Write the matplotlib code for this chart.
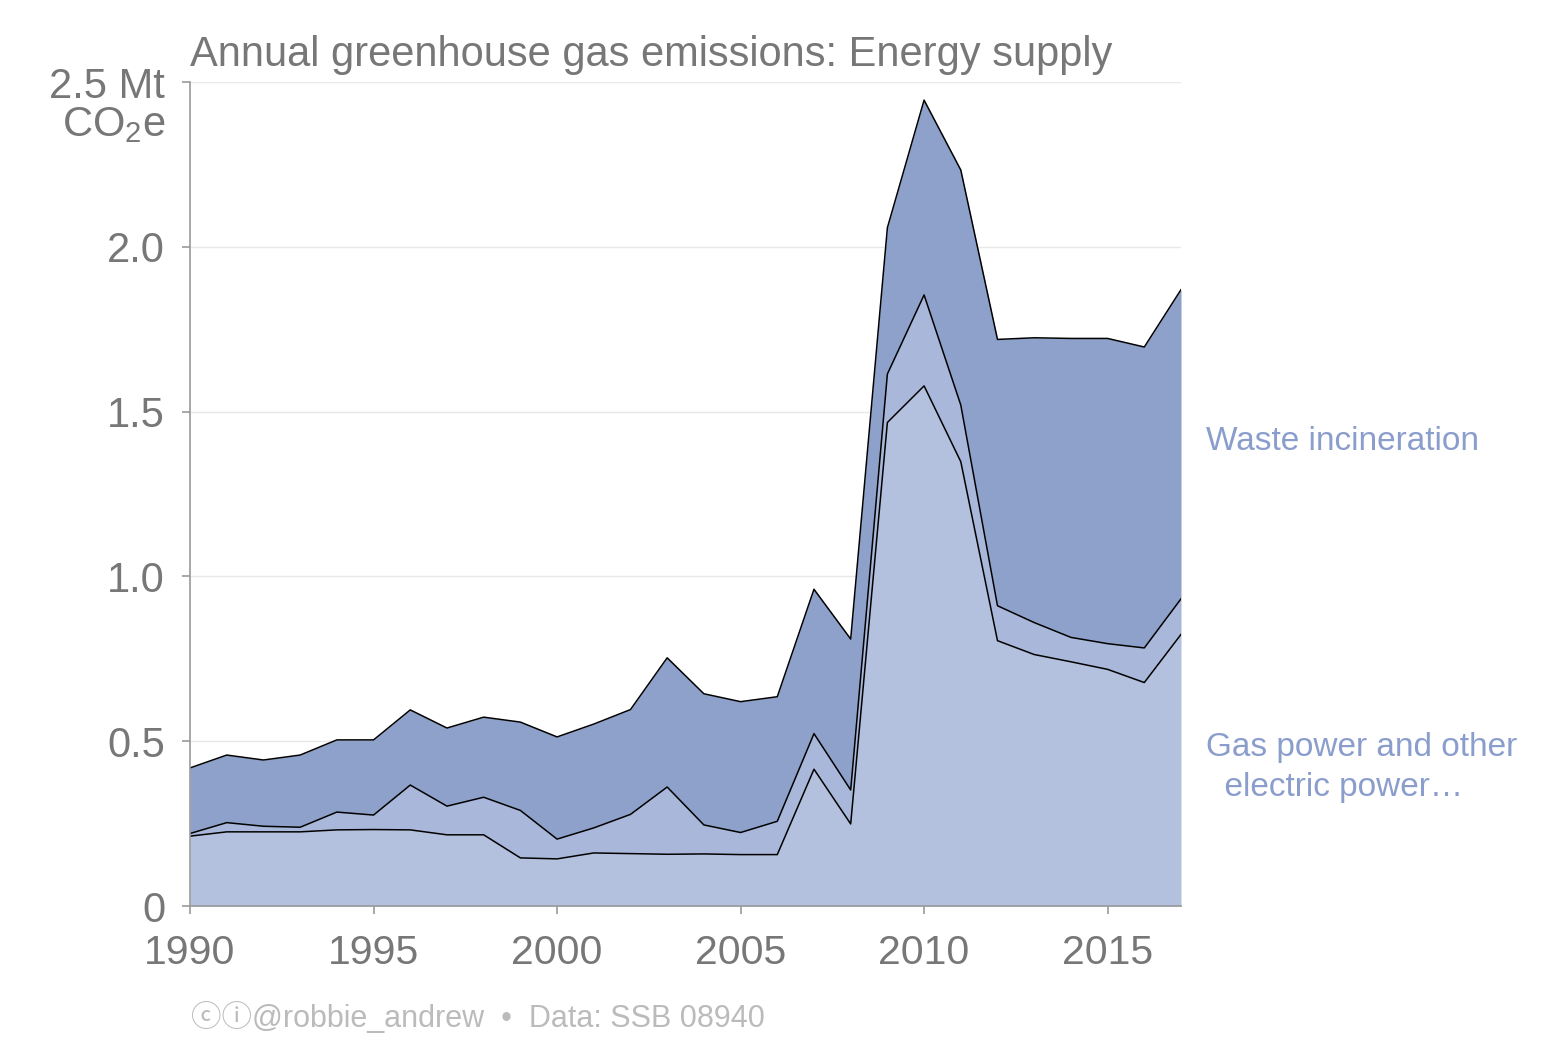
import numpy as np
import matplotlib
matplotlib.use("Agg")
from matplotlib import pyplot as plt

plt.rcParams['font.family'] = ['Liberation Sans', 'DejaVu Sans']
plt.rcParams['mathtext.default'] = 'regular'

# Emissions, Mt CO2e
years = list(range(1990, 2018))
gas_power = [0.212, 0.225, 0.225, 0.225, 0.231, 0.232, 0.231, 0.216, 0.216, 0.146,
             0.143, 0.161, 0.159, 0.157, 0.158, 0.156, 0.156, 0.415, 0.249, 1.467,
             1.578, 1.348, 0.805, 0.763, 0.741, 0.718, 0.678, 0.824]
other_energy = [0.008, 0.028, 0.017, 0.014, 0.054, 0.044, 0.136, 0.087, 0.114, 0.144,
                0.060, 0.076, 0.119, 0.204, 0.088, 0.067, 0.101, 0.108, 0.103, 0.147,
                0.276, 0.172, 0.106, 0.097, 0.074, 0.078, 0.105, 0.108]
waste = [0.199, 0.205, 0.201, 0.219, 0.219, 0.228, 0.228, 0.237, 0.243, 0.268,
         0.310, 0.315, 0.318, 0.392, 0.398, 0.397, 0.378, 0.438, 0.458, 0.444,
         0.591, 0.713, 0.808, 0.864, 0.907, 0.926, 0.913, 0.938]

x_ticks = [1990, 1995, 2000, 2005, 2010, 2015]
y_ticks = [0, 0.5, 1.0, 1.5, 2.0, 2.5]
y_ticklabels = ['0', '0.5', '1.0', '1.5', '2.0', '2.5 Mt']

grey = '#777777'
fills = ['#b3c0de', '#a8b7da', '#8da1cb']

fig = plt.figure(figsize=(15.63, 10.42), dpi=100)
ax = fig.add_axes([0.1216, 0.1305, 0.634, 0.7908])

x = np.array(years)
layers = [np.array(gas_power), np.array(other_energy), np.array(waste)]
base = np.zeros(len(x))
tops = []
for vals, col in zip(layers, fills):
    top = base + vals
    ax.fill_between(x, base, top, color=col, linewidth=0, zorder=2)
    tops.append(top)
    base = top
for top in tops:
    ax.plot(x, top, color='black', linewidth=1.1, zorder=3)

ax.set_xlim(1990, 2017)
ax.set_ylim(0, 2.5)
ax.set_xticks(x_ticks)
ax.set_xticklabels([str(v) for v in x_ticks])
ax.set_yticks(y_ticks)
ax.set_yticklabels(y_ticklabels)

for y in y_ticks[1:]:
    ax.axhline(y, color='#e8e8e8', linewidth=1, zorder=1)

for s in ['top', 'right']:
    ax.spines[s].set_visible(False)
for s in ['left', 'bottom']:
    ax.spines[s].set_color('#999999')
    ax.spines[s].set_linewidth(1.2)
    ax.spines[s].set_zorder(4)

ax.tick_params(axis='x', colors='#999999', labelcolor=grey, labelsize=29.5,
               length=6, width=1.2, pad=14)
ax.tick_params(axis='y', colors='#999999', labelcolor=grey, labelsize=30,
               length=6, width=1.2, pad=12)

ax.text(-0.025, 0.972, 'CO$_2$e', transform=ax.transAxes, ha='right', va='top',
        fontsize=30, color=grey)

fig.text(0.1216, 0.9367, 'Annual greenhouse gas emissions: Energy supply',
         fontsize=30, color=grey, ha='left', va='baseline')

lab_col = '#8a9dcc'
ax.text(1.025, 1.41, 'Waste incineration', transform=ax.get_yaxis_transform(),
        fontsize=24, color=lab_col, ha='left', va='center')
ax.text(1.025, 0.42, 'Gas power and other\n  electric power\u2026',
        transform=ax.get_yaxis_transform(), fontsize=24, color=lab_col,
        ha='left', va='center', multialignment='left', linespacing=1.38)

fig.text(0.1225, 0.008, '\u24d2\u24d8@robbie_andrew  \u2022  Data: SSB 08940',
         fontsize=22, color='#bbbbbb', ha='left', va='bottom',
         family=['Liberation Sans', 'Noto Sans CJK JP', 'DejaVu Sans'])

fig.savefig('out.png', dpi=100)
